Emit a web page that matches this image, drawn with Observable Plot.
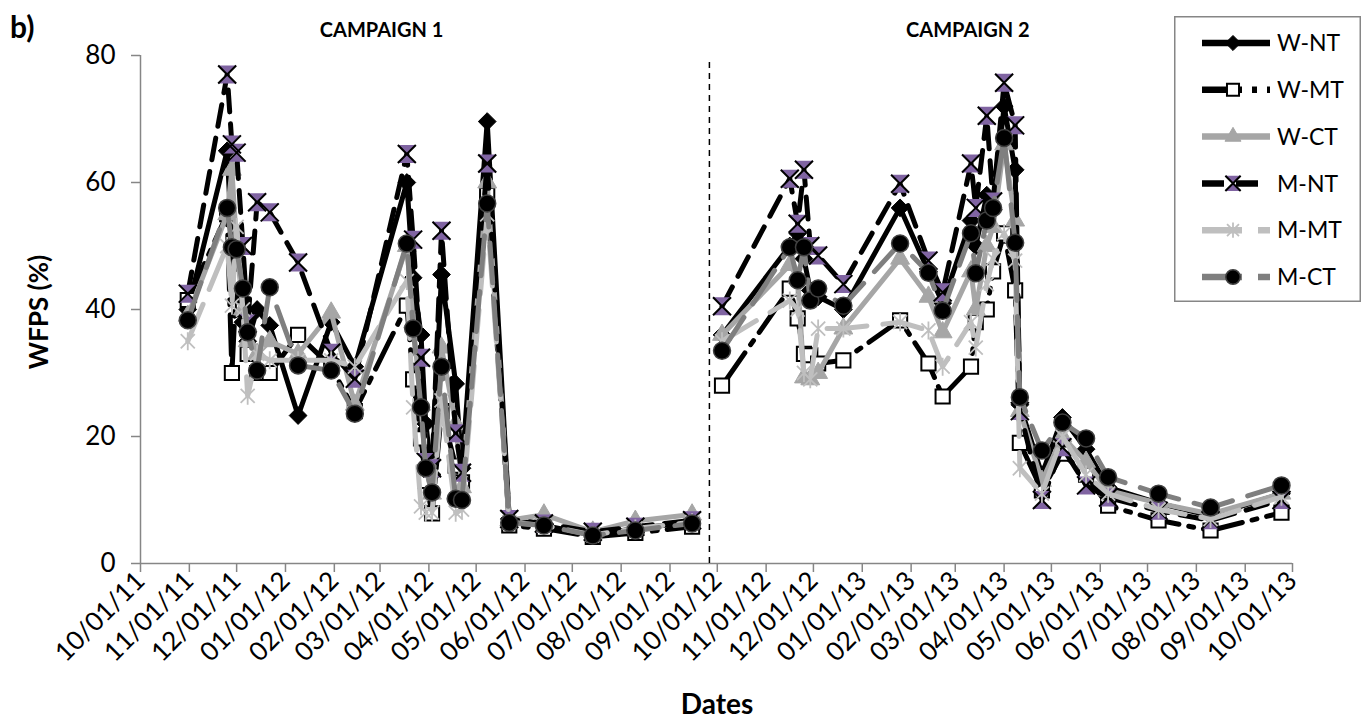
<!DOCTYPE html>
<html>
<head>
<meta charset="utf-8">
<script src="https://cdn.jsdelivr.net/npm/d3@7"></script>
<script src="https://cdn.jsdelivr.net/npm/@observablehq/plot@0.6"></script>
<style>
  body { margin: 0; background: #fff; font-family: Lato, "Open Sans", sans-serif; }
  #wrap { position: relative; width: 1366px; height: 724px; overflow: hidden; background: #fff; }
  .abs { position: absolute; color: #000; white-space: nowrap; }
  #panel { left: 10px; top: 8px; font-size: 30px; font-weight: bold; }
  #ylab { left: 38px; top: 312px; font-size: 26px; font-weight: bold; transform: translate(-50%, -50%) rotate(-90deg); }
  #xlab { left: 717px; top: 703px; font-size: 28px; font-weight: bold; transform: translate(-50%, -50%); }
  #legend { position: absolute; left: 1174px; top: 16px; }
</style>
</head>
<body>
<div id="wrap">
  <div id="chart"></div>
  <div class="abs" id="panel">b)</div>
  <div class="abs" id="ylab">WFPS (%)</div>
  <div class="abs" id="xlab">Dates</div>
  <div id="legend"></div>
</div>
<script>
// ---------------- DATA ----------------
const xTickLabels = ["10/01/11","11/01/11","12/01/11","01/01/12","02/01/12","03/01/12","04/01/12","05/01/12","06/01/12","07/01/12","08/01/12","09/01/12","10/01/12","11/01/12","12/01/12","01/01/13","02/01/13","03/01/13","04/01/13","05/01/13","06/01/13","07/01/13","08/01/13","09/01/13","10/01/13"];
const yTicks = [0, 20, 40, 60, 80];

const seriesNames = ["W-NT", "W-MT", "W-CT", "M-NT", "M-MT", "M-CT"];

const campaignLabels = ["CAMPAIGN 1", "CAMPAIGN 2"];
const campaignLabelDates = ["2012-03-02", "2013-03-09"];
const dividerDate = "2012-09-26";

const c1Dates = ["2011-10-31","2011-11-25","2011-11-28","2011-12-01","2011-12-05","2011-12-08","2011-12-14","2011-12-22","2012-01-09","2012-01-30","2012-02-14","2012-03-18","2012-03-22","2012-03-27","2012-03-30","2012-04-03","2012-04-09","2012-04-18","2012-04-22","2012-05-08","2012-05-22","2012-06-13","2012-07-14","2012-08-10","2012-09-15"];
const c2Dates = ["2012-10-04","2012-11-16","2012-11-21","2012-11-25","2012-11-29","2012-12-04","2012-12-20","2013-01-25","2013-02-12","2013-02-21","2013-03-11","2013-03-14","2013-03-21","2013-03-25","2013-04-01","2013-04-08","2013-04-11","2013-04-25","2013-05-08","2013-05-23","2013-06-06","2013-07-08","2013-08-10","2013-09-24"];

const wNT1 = [40, 65, 50, 44, 38, 35, 40, 37.5, 23.3, 38, 31, 60, 45, 36, 22, 14, 45.5, 28.3, 15, 69.6, 7, 6, 4.5, 5.5, 6.5];
const wMT1 = [41.5, 55, 30, 45, 40, 33, 30, 30, 36, 31, 24, 40.6, 29, 19.7, 13, 7.9, 24, 15.4, 12.8, 58, 6, 5.5, 4.2, 4.8, 5.8];
const wCT1 = [39, 55, 62, 50, 40, 35, 33, 35, 33, 39.5, 25, 50, 38, 25, 15, 11, 34, 22, 12, 60, 6.8, 7.7, 5, 6.7, 7.7];
const mNT1 = [42.5, 77, 66, 64.7, 50, 37.8, 56.9, 55.3, 47.4, 33.2, 29.1, 64.5, 51, 32.4, 16, 15, 52.4, 20.5, 14.3, 63, 7, 6.3, 5, 5.8, 6.8];
const mMT1 = [35, 50, 40.6, 53, 40, 26.4, 33, 32, 32, 32, 31, 44.5, 24.6, 9, 8, 8, 25.7, 8, 8.5, 55, 6.5, 6, 4.5, 5.5, 6.5];
const mCT1 = [38.3, 56, 49.8, 49.5, 43.3, 36.4, 30.4, 43.5, 31.2, 30.4, 23.6, 50.4, 37, 24.6, 15, 11.2, 31, 10.2, 10, 56.7, 6.4, 6, 4.4, 5.2, 6.3];

const wNT2 = [36, 50, 52, 48, 43, 42, 40, 56, 46, 41, 54, 50, 58, 56, 72, 62, 25, 14, 23, 18, 12, 9.5, 7.5, 11];
const wMT2 = [28, 43.3, 38.6, 33, 32.8, 31.5, 32, 38.3, 31.5, 26.3, 31, 38, 40, 46, 52, 43, 19, 11.5, 17.3, 14, 9.1, 6.8, 5.2, 8];
const wCT2 = [36, 47, 45, 29.3, 29, 30, 37, 48, 42, 36.4, 46, 40, 50, 53, 66, 54, 24, 13, 20, 16, 11.5, 9.5, 7.8, 11];
const mNT2 = [40.5, 60.6, 53.5, 62, 50, 48.5, 44, 59.8, 47.7, 42.7, 63, 56, 70.5, 57, 75.7, 69, 24, 10, 18.3, 12.3, 10.4, 8.3, 6.8, 10];
const mMT2 = [35, 41.4, 40, 30, 29, 37, 37, 38, 36.7, 31, 38, 34, 44, 48, 52, 47.7, 15, 11, 20, 14, 11, 8.5, 7, 10.5];
const mCT2 = [33.5, 49.8, 44.6, 49.8, 41.4, 43.3, 40.6, 50.4, 45.8, 39.8, 52, 45.7, 54, 56, 67, 50.5, 26.2, 17.8, 22.2, 19.7, 13.6, 11, 8.8, 12.3];

// ---------------- BUILD ----------------
const parse = d3.utcParse("%Y-%m-%d");
const tickParse = d3.utcParse("%m/%d/%y");
const tickDates = xTickLabels.map(tickParse);
const fmt = d3.utcFormat("%m/%d/%y");

const valuesBySeries = {
  "W-NT": [wNT1, wNT2], "W-MT": [wMT1, wMT2], "W-CT": [wCT1, wCT2],
  "M-NT": [mNT1, mNT2], "M-MT": [mMT1, mMT2], "M-CT": [mCT1, mCT2]
};
const rows = [];
for (const name of seriesNames) {
  const [a, b] = valuesBySeries[name];
  a.forEach((v, i) => rows.push({series: name, campaign: "1", date: parse(c1Dates[i]), value: v}));
  b.forEach((v, i) => rows.push({series: name, campaign: "2", date: parse(c2Dates[i]), value: v}));
}

// custom symbols
const hourglass = {draw(ctx, size) { const h = Math.sqrt(size / Math.PI);
  ctx.moveTo(-h, -h); ctx.lineTo(h, -h); ctx.lineTo(0, 0); ctx.closePath();
  ctx.moveTo(-h, h); ctx.lineTo(h, h); ctx.lineTo(0, 0); ctx.closePath(); }};
const xcross = {draw(ctx, size) { const h = Math.sqrt(size / Math.PI);
  ctx.moveTo(-h, -h); ctx.lineTo(h, h); ctx.moveTo(h, -h); ctx.lineTo(-h, h); }};
const star = {draw(ctx, size) { const h = Math.sqrt(size / Math.PI); const k = h * 0.78;
  ctx.moveTo(0, -h); ctx.lineTo(0, h);
  ctx.moveTo(-k, -k); ctx.lineTo(k, k); ctx.moveTo(k, -k); ctx.lineTo(-k, k); }};

const styles = {
  "W-NT": {line: {stroke: "#000", dash: null}, dots: [{symbol: "diamond2", r: 8, fill: "#000", stroke: "#000", sw: 1}]},
  "W-MT": {line: {stroke: "#000", dash: "40,10,5,10"}, dots: [{symbol: "square", r: 8, fill: "#fff", stroke: "#000", sw: 2}]},
  "W-CT": {line: {stroke: "#a6a6a6", dash: null}, dots: [{symbol: "triangle", r: 7, fill: "#a6a6a6", stroke: "#a6a6a6", sw: 1}]},
  "M-NT": {line: {stroke: "#000", dash: "22,12"}, dots: [{symbol: hourglass, r: 9, fill: "#8064a2", stroke: "none", sw: 0}, {symbol: xcross, r: 9, fill: "none", stroke: "#000", sw: 2}]},
  "M-MT": {line: {stroke: "#bfbfbf", dash: "40,16"}, dots: [{symbol: star, r: 9, fill: "none", stroke: "#bfbfbf", sw: 1.8}]},
  "M-CT": {line: {stroke: "#7f7f7f", dash: "40,16"}, dots: [{symbol: "circle", r: 8.5, fill: "#000", stroke: "#404040", sw: 1.5}]}
};

const seriesMarks = [];
for (const name of seriesNames) {
  const data = rows.filter(d => d.series === name);
  const st = styles[name];
  seriesMarks.push(Plot.line(data, {x: "date", y: "value", z: "campaign", stroke: st.line.stroke, strokeWidth: 5,
    strokeDasharray: st.line.dash, strokeLinejoin: "round"}));
  for (const dt of st.dots) {
    seriesMarks.push(Plot.dot(data, {x: "date", y: "value", symbol: dt.symbol, r: dt.r, fill: dt.fill, stroke: dt.stroke, strokeWidth: dt.sw}));
  }
}

const x0 = tickDates[0], x1 = tickDates[tickDates.length - 1];

const chart = Plot.plot({
  width: 1366, height: 724,
  marginLeft: 140, marginRight: 74, marginTop: 55, marginBottom: 161,
  style: {fontFamily: "Lato, 'Open Sans', sans-serif", background: "transparent", overflow: "visible"},
  x: {type: "utc", domain: [x0, x1]},
  y: {domain: [0, 80]},
  marks: [
    Plot.axisY({ticks: yTicks, tickSize: 9, tickPadding: 16, fontSize: 26, stroke: "#868686", strokeWidth: 1.5, fill: "#000", label: null}),
    Plot.axisX({ticks: tickDates, tickFormat: fmt, tickRotate: -45, tickSize: 9, tickPadding: 4, fontSize: 26, stroke: "#868686", strokeWidth: 1.5, fill: "#000", label: null}),
    Plot.ruleX([x0], {y1: 0, y2: 80, stroke: "#868686", strokeWidth: 1.5}),
    Plot.ruleY([0], {x1: x0, x2: x1, stroke: "#868686", strokeWidth: 1.5}),
    Plot.ruleX([parse(dividerDate)], {y1: 0, y2: 79, stroke: "#000", strokeWidth: 1.5, strokeDasharray: "6,5"}),
    Plot.text(campaignLabels, {x: (d, i) => parse(campaignLabelDates[i]), y: 80, dy: -25, text: d => d, fontWeight: "bold", fontSize: 20, fill: "#000"}),
    ...seriesMarks
  ]
});
document.getElementById("chart").appendChild(chart);

// ---------------- LEGEND ----------------
const lw = 187, lh = 286;
const leg = d3.select("#legend").append("svg").attr("width", lw).attr("height", lh)
  .style("font-family", "Lato, 'Open Sans', sans-serif");
leg.append("rect").attr("x", 0.75).attr("y", 0.75).attr("width", lw - 1.5).attr("height", lh - 1.5)
  .attr("fill", "#fff").attr("stroke", "#868686").attr("stroke-width", 1.5);
const d3sym = {"diamond2": d3.symbolDiamond2, "square": d3.symbolSquare, "triangle": d3.symbolTriangle, "circle": d3.symbolCircle};
seriesNames.forEach((name, i) => {
  const st = styles[name];
  const cy = 27 + i * 46.8;
  const g = leg.append("g");
  g.append("line").attr("x1", 28).attr("x2", 96).attr("y1", cy).attr("y2", cy)
    .attr("stroke", st.line.stroke).attr("stroke-width", 6.5)
    .attr("stroke-dasharray", st.line.dash);
  for (const dt of st.dots) {
    const type = typeof dt.symbol === "string" ? d3sym[dt.symbol] : dt.symbol;
    const rr = dt.r * 0.85;
    g.append("path").attr("d", d3.symbol(type, rr * rr * Math.PI)())
      .attr("transform", `translate(59,${cy})`)
      .attr("fill", dt.fill).attr("stroke", dt.stroke).attr("stroke-width", dt.sw);
  }
  g.append("text").attr("x", 103).attr("y", cy).attr("dy", "0.36em").attr("font-size", 23).attr("fill", "#000").text(name);
});
</script>
</body>
</html>
